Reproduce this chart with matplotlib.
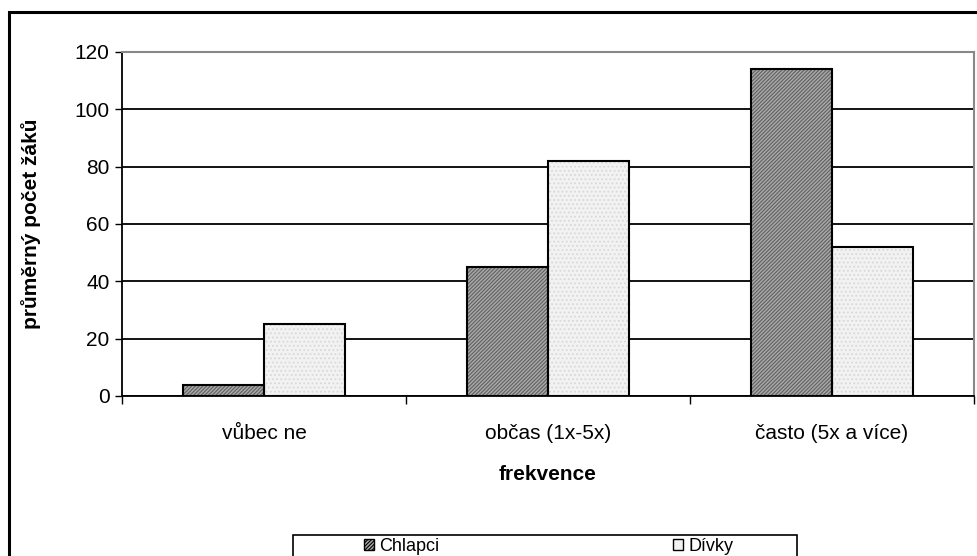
import numpy as np
import matplotlib.pyplot as plt
from matplotlib.patches import Rectangle, Patch

plt.rcParams['font.family'] = ['Liberation Sans', 'DejaVu Sans']
plt.rcParams['hatch.linewidth'] = 0.8

categories = ['vůbec ne', 'občas (1x-5x)', 'často (5x a více)']
chlapci = [4, 45, 114]
divky = [25, 82, 52]
yticks = [0, 20, 40, 60, 80, 100, 120]

fig = plt.figure(figsize=(9.77, 5.56), dpi=100)
ax = fig.add_axes([0.1249, 0.2878, 0.8720, 0.6187])

x = np.arange(len(categories))
w = 0.285
# hatched fill first, then a plain black outline on top
ax.bar(x - w / 2, chlapci, w, color='#a8a8a8', edgecolor='#606060', hatch='/////////',
       linewidth=0, zorder=3)
ax.bar(x - w / 2, chlapci, w, fill=False, edgecolor='black', linewidth=1.5, zorder=4)
ax.bar(x + w / 2, divky, w, color='#f2f2f2', edgecolor='#d8d8d8', hatch='....',
       linewidth=0, zorder=3)
ax.bar(x + w / 2, divky, w, fill=False, edgecolor='black', linewidth=1.5, zorder=4)

ax.set_xlim(-0.5, len(categories) - 0.5)
ax.set_ylim(0, 120)
ax.set_yticks(yticks)
ax.tick_params(axis='y', direction='out', length=5, width=1, labelsize=15, pad=4)
ax.set_xticks(x)
ax.set_xticklabels(categories)
ax.set_xticks(np.arange(len(categories) + 1) - 0.5, minor=True)
ax.tick_params(axis='x', which='major', length=0, labelsize=15, pad=20)
ax.tick_params(axis='x', which='minor', direction='out', length=6, width=1)
ax.yaxis.grid(True, color='black', linewidth=1.3, zorder=0)
ax.set_axisbelow(True)

for side in ['top', 'right']:
    ax.spines[side].set_color('#888888')
    ax.spines[side].set_linewidth(1.5)
for side in ['left', 'bottom']:
    ax.spines[side].set_color('black')
    ax.spines[side].set_linewidth(1.3)

ax.set_ylabel('průměrný počet žáků', fontsize=15, fontweight='bold', labelpad=24)
ax.set_xlabel('frekvence', fontsize=15, fontweight='bold', labelpad=16)

handles = [Patch(facecolor='#a8a8a8', edgecolor='black', hatch='/////////'),
           Patch(facecolor='#f2f2f2', edgecolor='black')]
leg = fig.legend(handles, ['Chlapci', 'Dívky'], loc='center',
                 bbox_to_anchor=(0.5615, 1 - 546.5 / 556), ncol=2,
                 fontsize=13, frameon=False,
                 handlelength=0.55, handleheight=0.55, handletextpad=0.3,
                 columnspacing=12.95, borderpad=0, borderaxespad=0)

# legend frame, running off the bottom edge
fig.patches.append(Rectangle((293 / 977, -0.02), 504 / 977, 0.02 + 21.5 / 556,
                             transform=fig.transFigure, fill=False,
                             edgecolor='black', linewidth=1.2))

# outer chart border
fig.patches.append(Rectangle((0.009, -0.1), 1.2, 1.078, transform=fig.transFigure,
                             fill=False, edgecolor='black', linewidth=2.2))

fig.savefig('out.png', dpi=100)
